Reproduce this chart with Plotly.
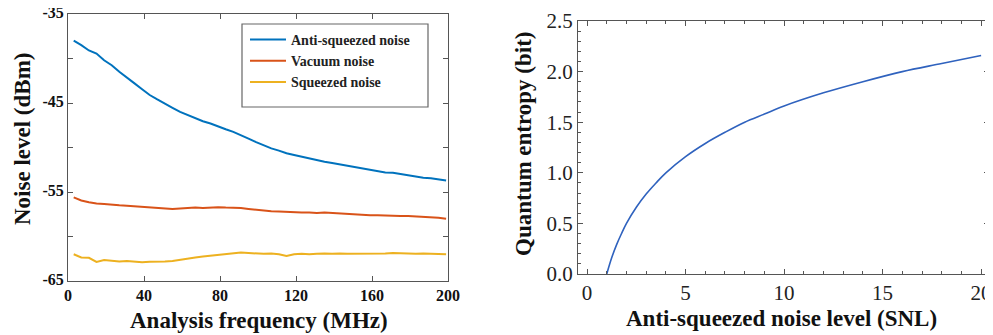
import plotly.graph_objects as go

# ---------------- data (left panel) ----------------
freq_mhz = [3, 7, 11, 15, 19, 23, 27, 31, 35, 39, 43, 47, 51, 55, 59, 63, 67, 71, 75, 79,
            83, 87, 91, 95, 99, 103, 107, 111, 115, 119, 123, 127, 131, 135, 139, 143, 147,
            151, 155, 159, 163, 167, 171, 175, 179, 183, 187, 191, 195, 199]

anti_squeezed = [-38.0, -38.5, -39.1, -39.45, -40.2, -40.75, -41.5, -42.1, -42.8, -43.45,
                 -44.1, -44.6, -45.1, -45.55, -46.0, -46.35, -46.7, -47.05, -47.3, -47.65,
                 -47.95, -48.25, -48.6, -49.0, -49.4, -49.75, -50.1, -50.35, -50.65, -50.85,
                 -51.05, -51.2, -51.4, -51.6, -51.75, -51.9, -52.05, -52.2, -52.35, -52.5,
                 -52.6, -52.8, -52.85, -53.0, -53.15, -53.25, -53.4, -53.45, -53.55, -53.7]

vacuum = [-55.6, -55.95, -56.15, -56.3, -56.35, -56.45, -56.5, -56.55, -56.6, -56.65,
          -56.7, -56.75, -56.8, -56.9, -56.85, -56.8, -56.75, -56.8, -56.75, -56.7,
          -56.75, -56.75, -56.8, -56.9, -57.0, -57.1, -57.15, -57.2, -57.25, -57.3,
          -57.3, -57.3, -57.35, -57.3, -57.35, -57.4, -57.5, -57.55, -57.55, -57.6,
          -57.6, -57.65, -57.65, -57.7, -57.7, -57.75, -57.75, -57.85, -57.9, -58.0]

squeezed = [-62.0, -62.35, -62.4, -62.85, -62.65, -62.7, -62.8, -62.75, -62.85, -62.9,
            -62.85, -62.85, -62.8, -62.75, -62.6, -62.5, -62.35, -62.25, -62.15, -62.05,
            -62.0, -61.85, -61.8, -61.85, -61.9, -61.95, -61.9, -62.0, -62.2, -62.0,
            -61.95, -62.0, -61.95, -61.9, -61.95, -61.9, -61.95, -61.95, -61.9, -61.95,
            -61.9, -61.9, -61.85, -61.9, -61.9, -61.95, -61.9, -61.95, -61.95, -62.0]

left_x_ticks = [0, 40, 80, 120, 160, 200]
left_y_ticks = [-65, -60, -55, -50, -45, -40, -35]
left_y_labels = ["-65", "", "-55", "", "-45", "", "-35"]

# ---------------- data (right panel) ----------------
anti_snl = [1.0, 1.25, 1.5, 1.75, 2.0, 2.5, 3.0, 3.5, 4.0, 5.0, 6.0, 7.0, 8.0, 9.0, 10.0,
            12.0, 14.0, 16.0, 18.0, 20.0]
entropy_bit = [0.0, 0.16, 0.29, 0.40, 0.50, 0.66, 0.79, 0.90, 1.0, 1.16, 1.29, 1.40, 1.50,
               1.58, 1.66, 1.79, 1.90, 2.0, 2.08, 2.16]
right_x_ticks = [0, 5, 10, 15, 20]
right_y_ticks = [0, 0.5, 1.0, 1.5, 2.0, 2.5]

serif = "Liberation Serif"
axcol = "#555555"
# the page body adds an 8px margin; the figure fills the rest of the 993x335 window
OFF = 8
W, H = 993 - OFF, 335 - OFF


def px(x):
    return (x - OFF) / W


def py(y):
    return 1 - (y - OFF) / H


fig = go.Figure()
fig.add_trace(go.Scatter(x=freq_mhz, y=anti_squeezed, mode="lines", name="Anti-squeezed noise",
                         line=dict(color="#0072BD", width=2), xaxis="x", yaxis="y"))
fig.add_trace(go.Scatter(x=freq_mhz, y=vacuum, mode="lines", name="Vacuum noise",
                         line=dict(color="#D95319", width=2), xaxis="x", yaxis="y"))
fig.add_trace(go.Scatter(x=freq_mhz, y=squeezed, mode="lines", name="Squeezed noise",
                         line=dict(color="#EDB120", width=2), xaxis="x", yaxis="y"))
fig.add_trace(go.Scatter(x=anti_snl, y=entropy_bit, mode="lines", showlegend=False,
                         line=dict(color="#2F62BE", width=1.6, shape="spline"),
                         xaxis="x2", yaxis="y2"))

common = dict(showline=True, linecolor=axcol, linewidth=1, mirror="ticks",
              showgrid=False, zeroline=False, automargin=False,
              ticklabeloverflow="allow",
              ticks="inside", ticklen=5, tickcolor=axcol)


def title_ann(text, xpx, ypx, angle=0):
    return dict(text=text, xref="paper", yref="paper", x=px(xpx), y=py(ypx),
                xanchor="center", yanchor="middle", showarrow=False, textangle=angle,
                font=dict(family=serif, size=23, color="#111111", weight="bold"))


fig.update_layout(
    width=W, height=H,
    margin=dict(l=0, r=0, t=0, b=0, autoexpand=False),
    paper_bgcolor="white", plot_bgcolor="white",
    font=dict(family=serif, color="#111111"),
    showlegend=True,
    legend=dict(x=px(245), y=py(24), xanchor="left", yanchor="top",
                bgcolor="rgba(0,0,0,0)", borderwidth=0,
                font=dict(family=serif, size=14, color="#222222", weight="bold"),
                tracegroupgap=0, itemwidth=36),
    xaxis=dict(domain=[px(68), px(448)], range=[0, 200], anchor="y",
               tickvals=left_x_ticks,
               tickfont=dict(family=serif, size=16, color="#111111", weight="bold"),
               **common),
    yaxis=dict(domain=[py(281), py(14)], range=[-65, -35], anchor="x",
               tickvals=left_y_ticks, ticktext=left_y_labels, ticklabelshift=-2,
               tickfont=dict(family=serif, size=16, color="#111111", weight="bold"),
               **common),
    xaxis2=dict(domain=[px(578), px(989)], range=[-0.46, 20.4], anchor="y2",
                tickvals=right_x_ticks,
                minor=dict(dtick=1, tick0=0, ticks="inside", ticklen=3, tickcolor=axcol),
                tickfont=dict(family=serif, size=21, color="#222222"),
                **common),
    yaxis2=dict(domain=[py(274), py(21)], range=[0, 2.5], anchor="x2",
                tickvals=right_y_ticks, tickformat=".1f",
                minor=dict(dtick=0.1, tick0=0, ticks="inside", ticklen=3, tickcolor=axcol),
                tickfont=dict(family=serif, size=21, color="#222222"),
                **common),
    shapes=[dict(type="rect", xref="paper", yref="paper",
                 x0=px(242), x1=px(428), y0=py(107), y1=py(24),
                 line=dict(color="#666666", width=1.2), fillcolor="rgba(0,0,0,0)")],
    annotations=[
        title_ann("Noise level (dBm)", 22, 139, -90),
        title_ann("Analysis frequency (MHz)", 259, 320),
        title_ann("Quantum entropy (bit)", 523, 144, -90),
        title_ann("Anti-squeezed noise level (SNL)", 781, 318),
    ],
)

fig.write_html("out.html")
